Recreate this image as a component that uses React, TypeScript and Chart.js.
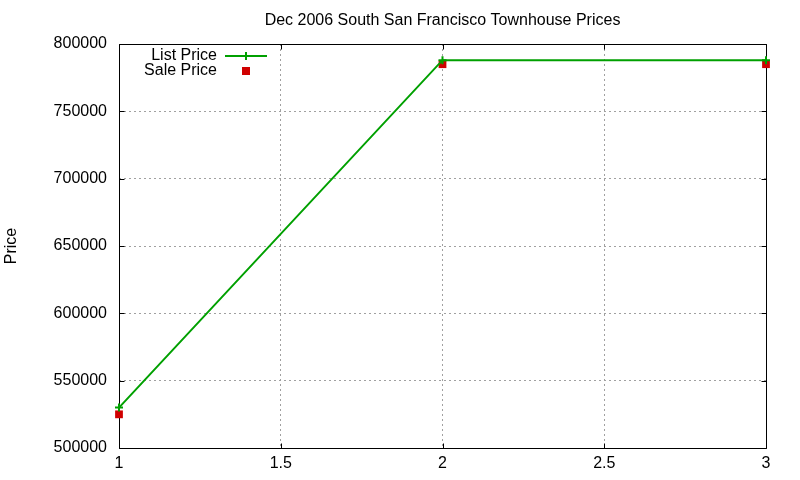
import { useEffect, useRef } from "react";
import { Chart, registerables } from "chart.js";

Chart.register(...registerables);

const titleText = "Dec 2006 South San Francisco Townhouse Prices";
const yAxisLabel = "Price";
const xValues = [1, 2, 3];
const listPrice = [530000, 788000, 788000];
const salePrice = [525000, 785000, 785000];
const seriesNames = ["List Price", "Sale Price"];
const xTickValues = [1, 1.5, 2, 2.5, 3];
const yTickValues = [500000, 550000, 600000, 650000, 700000, 750000, 800000];

const GREEN = "#00a000";
const RED = "#d00000";
const FONT = "'Liberation Sans', Arial, sans-serif";
const FS = 16;

const framePlugin = {
  id: "frame",
  beforeDatasetsDraw(chart: any) {
    const { ctx, chartArea: a, scales } = chart;
    ctx.save();
    ctx.strokeStyle = "#000";
    ctx.lineWidth = 1;
    ctx.beginPath();
    const L = Math.round(a.left) + 0.5;
    const R = Math.round(a.right) + 0.5;
    const T = Math.round(a.top) + 0.5;
    const B = Math.round(a.bottom) + 0.5;
    ctx.rect(L, T, R - L, B - T);
    const tl = 5;
    for (const v of xTickValues) {
      const x = Math.round(scales.x.getPixelForValue(v)) + 0.5;
      ctx.moveTo(x, B);
      ctx.lineTo(x, B - tl);
      ctx.moveTo(x, T);
      ctx.lineTo(x, T + tl);
    }
    for (const v of yTickValues) {
      const y = Math.round(scales.y.getPixelForValue(v)) + 0.5;
      ctx.moveTo(L, y);
      ctx.lineTo(L + tl, y);
      ctx.moveTo(R, y);
      ctx.lineTo(R - tl, y);
    }
    ctx.stroke();
    ctx.restore();
  },
  afterDraw(chart: any) {
    const { ctx, chartArea: a } = chart;
    ctx.save();
    ctx.font = `${FS}px ${FONT}`;
    ctx.fillStyle = "#000";
    ctx.textBaseline = "middle";
    ctx.textAlign = "center";
    ctx.fillText(titleText, (a.left + a.right) / 2, 21);
    // legend
    ctx.textAlign = "right";
    const textRight = 217;
    const y1 = 56;
    const y2 = 71;
    ctx.fillText(seriesNames[0], textRight, y1);
    ctx.fillText(seriesNames[1], textRight, y2);
    ctx.strokeStyle = GREEN;
    ctx.lineWidth = 2;
    ctx.beginPath();
    ctx.moveTo(225, y1);
    ctx.lineTo(267, y1);
    ctx.moveTo(246, y1 - 4);
    ctx.lineTo(246, y1 + 4);
    ctx.stroke();
    ctx.fillStyle = RED;
    ctx.fillRect(242, y2 - 4, 8, 8);
    ctx.restore();
  },
};

export default function App() {
  const ref = useRef<HTMLCanvasElement | null>(null);
  useEffect(() => {
    if (!ref.current) return;
    const chart = new Chart(ref.current, {
      type: "scatter",
      data: {
        datasets: [
          {
            label: seriesNames[0],
            data: xValues.map((x, i) => ({ x, y: listPrice[i] })),
            showLine: true,
            borderColor: GREEN,
            backgroundColor: GREEN,
            borderWidth: 2,
            pointStyle: "cross",
            pointRadius: 4,
            pointBorderWidth: 2,
            pointBorderColor: GREEN,
            clip: false,
            order: 1,
          },
          {
            label: seriesNames[1],
            data: xValues.map((x, i) => ({ x, y: salePrice[i] })),
            showLine: false,
            borderColor: RED,
            backgroundColor: RED,
            pointStyle: "rect",
            pointRadius: 5.5,
            pointBorderWidth: 0,
            clip: false,
            order: 2,
          },
        ],
      },
      options: {
        animation: false,
        responsive: false,
        maintainAspectRatio: false,
        layout: { padding: { top: 44, right: 34, left: 0, bottom: 0 } },
        plugins: {
          legend: { display: false },
          title: { display: false },
          tooltip: { enabled: false },
        },
        scales: {
          x: {
            type: "linear",
            min: 1,
            max: 3,
            afterBuildTicks: (s: any) => {
              s.ticks = xTickValues.map((v) => ({ value: v }));
            },
            afterFit: (s: any) => {
              s.height = 32;
            },
            ticks: {
              color: "#000",
              font: { family: FONT, size: FS },
              padding: 6,
              callback: (v: any) => String(v),
            },
            grid: {
              color: "#a0a0a0",
              drawTicks: false,
              lineWidth: 1,
            },
            border: { display: false, dash: [2, 3] },
          },
          y: {
            type: "linear",
            min: 500000,
            max: 800000,
            afterBuildTicks: (s: any) => {
              s.ticks = yTickValues.map((v) => ({ value: v }));
            },
            afterFit: (s: any) => {
              s.width = 119;
            },
            title: {
              display: true,
              text: yAxisLabel,
              color: "#000",
              font: { family: FONT, size: FS },
              padding: { top: 2, bottom: 0 },
            },
            ticks: {
              color: "#000",
              font: { family: FONT, size: FS },
              padding: 12,
              callback: (v: any) => String(v),
            },
            grid: {
              color: "#a0a0a0",
              drawTicks: false,
              lineWidth: 1,
            },
            border: { display: false, dash: [2, 3] },
          },
        },
      },
      plugins: [framePlugin],
    });
    return () => chart.destroy();
  }, []);
  return (
    <div style={{ position: "absolute", left: 0, top: 0, width: 800, height: 480, background: "#fff" }}>
      <canvas ref={ref} width={800} height={480} style={{ width: 800, height: 480 }} />
    </div>
  );
}
